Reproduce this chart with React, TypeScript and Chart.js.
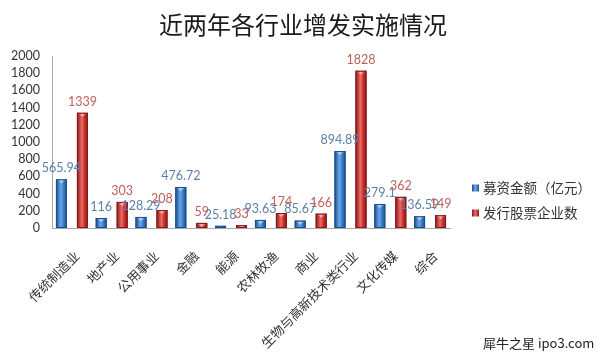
import React, { useEffect, useRef } from 'react';
import { Chart, registerables } from 'chart.js';

Chart.register(...registerables);

const chartTitle = '近两年各行业增发实施情况';
const categories = ['传统制造业', '地产业', '公用事业', '金融', '能源', '农林牧渔', '商业', '生物与高新技术类行业', '文化传媒', '综合'];
const fundraising = [565.94, 116, 128.29, 476.72, 25.18, 93.63, 85.67, 894.89, 279.1, 136.59];
const companies = [1339, 303, 208, 59, 33, 174, 166, 1828, 362, 149];
const seriesNames = ['募资金额（亿元）', '发行股票企业数'];
const yMin = 0;
const yMax = 2000;
const yStep = 200;
const watermark = '犀牛之星 ipo3.com';

const CJK = '"Noto Sans CJK SC", "Noto Sans", sans-serif';
const NUM = 'Lato, "Noto Sans", sans-serif';

const palette = [
  { dark: '#1c4c8c', light: '#6aa6ea', mid: '#3a7cc8', label: '#5b80aa' },
  { dark: '#861818', light: '#ec6a62', mid: '#c8322c', label: '#c0605a' },
];

function drawBarStyle(ctx: CanvasRenderingContext2D, el: any, p: any) {
  const w = el.width;
  const left = el.x - w / 2;
  const top = Math.min(el.y, el.base);
  const h = Math.abs(el.base - el.y);
  if (h <= 0) return;
  const g = ctx.createLinearGradient(left, 0, left + w, 0);
  g.addColorStop(0, p.dark);
  g.addColorStop(0.45, p.light);
  g.addColorStop(0.7, p.mid);
  g.addColorStop(1, p.dark);
  ctx.fillStyle = g;
  ctx.fillRect(left, top, w, h);
  const capH = Math.min(4, h);
  const cg = ctx.createLinearGradient(left, 0, left + w, 0);
  cg.addColorStop(0, p.mid);
  cg.addColorStop(0.5, '#ffffff');
  cg.addColorStop(1, p.mid);
  ctx.globalAlpha = 0.55;
  ctx.fillStyle = cg;
  ctx.beginPath();
  ctx.moveTo(left, top);
  ctx.lineTo(left + w, top);
  ctx.lineTo(el.x, top + capH);
  ctx.closePath();
  ctx.fill();
  ctx.globalAlpha = 1;
  ctx.strokeStyle = p.dark;
  ctx.lineWidth = 1;
  ctx.strokeRect(left + 0.5, top + 0.5, w - 1, h - 1);
}

const decorPlugin = {
  id: 'decor',
  afterDatasetsDraw(chart: any) {
    const ctx = chart.ctx as CanvasRenderingContext2D;
    ctx.save();
    chart.data.datasets.forEach((ds: any, di: number) => {
      const meta = chart.getDatasetMeta(di);
      const p = palette[di];
      meta.data.forEach((el: any) => drawBarStyle(ctx, el, p));
    });
    chart.data.datasets.forEach((ds: any, di: number) => {
      const meta = chart.getDatasetMeta(di);
      const p = palette[di];
      ctx.font = `12.5px ${NUM}`;
      ctx.fillStyle = p.label;
      ctx.textAlign = 'center';
      ctx.textBaseline = 'bottom';
      meta.data.forEach((el: any, i: number) => {
        ctx.fillText(String(ds.data[i]), el.x, el.y - 5);
      });
    });
    ctx.restore();
  },
  afterDraw(chart: any) {
    const ctx = chart.ctx as CanvasRenderingContext2D;
    const area = chart.chartArea;
    ctx.save();
    ctx.font = `24px ${CJK}`;
    ctx.fillStyle = '#1a1a1a';
    ctx.textAlign = 'center';
    ctx.textBaseline = 'middle';
    ctx.fillText(chartTitle, 303, 25);
    const lx = area.right + 22;
    const ly = (area.top + area.bottom) / 2 + 46;
    ctx.font = `13.5px ${CJK}`;
    ctx.textAlign = 'left';
    seriesNames.forEach((name, i) => {
      const y = ly + i * 25;
      const p = palette[i];
      const g = ctx.createLinearGradient(lx, 0, lx + 7, 0);
      g.addColorStop(0, p.dark);
      g.addColorStop(0.5, p.light);
      g.addColorStop(1, p.dark);
      ctx.fillStyle = g;
      ctx.fillRect(lx, y - 3.5, 7, 7);
      ctx.fillStyle = '#333';
      ctx.fillText(name, lx + 11, y);
    });
    ctx.font = `13px ${CJK}`;
    ctx.fillStyle = '#222';
    ctx.fillText(watermark, 483, 343);
    ctx.restore();
  },
};

export default function App() {
  const ref = useRef<HTMLCanvasElement>(null);
  useEffect(() => {
    if (!ref.current) return;
    const chart = new Chart(ref.current, {
      type: 'bar',
      data: {
        labels: categories,
        datasets: [
          {
            label: seriesNames[0],
            data: fundraising,
            backgroundColor: palette[0].mid,
            barPercentage: 0.52,
            categoryPercentage: 1.054,
          },
          {
            label: seriesNames[1],
            data: companies,
            backgroundColor: palette[1].mid,
            barPercentage: 0.52,
            categoryPercentage: 1.054,
          },
        ],
      },
      options: {
        responsive: false,
        animation: false,
        events: [],
        layout: { padding: { top: 56, right: 150, left: 0, bottom: 0 } },
        plugins: {
          legend: { display: false },
          title: { display: false },
          tooltip: { enabled: false },
        },
        scales: {
          x: {
            grid: { display: false, drawTicks: false },
            border: { color: '#a8a8a8' },
            ticks: {
              minRotation: 45,
              maxRotation: 45,
              autoSkip: false,
              padding: 20,
              labelOffset: 5,
              color: '#333',
              font: { family: CJK, size: 13 },
            },
            afterFit: (s: any) => {
              s.height = 132;
            },
          },
          y: {
            min: yMin,
            max: yMax,
            grid: { display: false, drawTicks: false },
            border: { color: '#a8a8a8' },
            ticks: {
              stepSize: yStep,
              autoSkip: false,
              padding: 12,
              color: '#333',
              font: { family: NUM, size: 12.5 },
              callback: (v: any) => String(v),
            },
            afterFit: (s: any) => {
              s.width = 52;
            },
          },
        },
      },
      plugins: [decorPlugin],
    });
    return () => chart.destroy();
  }, []);
  return (
    <div style={{ position: 'fixed', left: 0, top: 0, width: 600, height: 360, background: '#fff' }}>
      <canvas ref={ref} width={600} height={360} style={{ display: 'block' }} />
    </div>
  );
}
